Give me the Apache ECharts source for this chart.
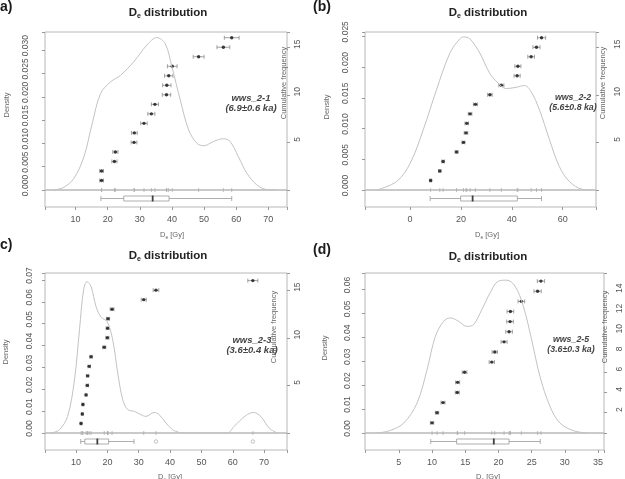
<!DOCTYPE html>
<html>
<head>
<meta charset="utf-8">
<script src="https://cdn.jsdelivr.net/npm/echarts@6/dist/echarts.min.js"></script>
<style>
html,body{margin:0;padding:0;background:#fff;}
#chart{width:625px;height:479px;}
</style>
</head>
<body>
<div id="chart"></div>
<script>
// ---- data ----
// a) wws_2-1
var aDensX = [3.3, 6.4, 9.5, 12.6, 15.2, 17.8, 20.9, 24.0, 28.1, 32.2, 35.3, 37.9, 40.0, 42.6, 45.2, 47.8, 50.0, 52.9, 56.0, 58.1, 60.7, 63.3, 66.4, 69.5, 72.6];
var aDensY = [0, 0.0006, 0.0025, 0.0071, 0.0143, 0.0207, 0.0232, 0.0246, 0.0275, 0.0311, 0.0327, 0.0314, 0.0264, 0.0193, 0.0129, 0.0100, 0.0095, 0.0104, 0.0110, 0.0104, 0.0071, 0.0036, 0.0011, 0.0001, 0];
var aDe = [18.1, 18.1, 22.1, 22.4, 28.2, 28.3, 31.3, 33.6, 34.7, 38.3, 38.4, 39.0, 40.1, 48.3, 56.0, 58.6];
var aErr = [0.6, 0.6, 0.8, 0.8, 0.9, 0.9, 1.0, 1.1, 1.1, 1.3, 1.3, 1.3, 1.5, 1.7, 2.0, 2.3];
var aBox = [17.9, 25.0, 34.0, 39.1, 58.6];
var aXTicks = [10, 20, 30, 40, 50, 60, 70];
var aDTicks = [0, 0.005, 0.01, 0.015, 0.02, 0.025, 0.03];
var aCTicks = [5, 10, 15];

// (b) wws_2-2
var bDensX = [-13.0, -5.2, 0, 5.2, 10.4, 15.7, 19.6, 21.1, 23.5, 27.4, 31.3, 34.6, 37.8, 41.7, 45.0, 47.6, 50.9, 54.8, 58.7, 62.6, 67.8, 71.7];
var bDensY = [0, 0.0014, 0.0043, 0.0098, 0.0163, 0.0223, 0.0246, 0.0249, 0.0246, 0.0223, 0.0190, 0.0174, 0.0165, 0.0167, 0.0170, 0.0160, 0.0130, 0.0082, 0.0038, 0.0014, 0.0001, 0];
var bDe = [8.1, 11.7, 13.0, 18.3, 21.0, 22.0, 22.3, 23.6, 25.7, 31.4, 35.9, 42.1, 42.4, 47.6, 49.7, 51.7];
var bErr = [0.4, 0.5, 0.5, 0.6, 0.6, 0.7, 0.7, 0.7, 0.8, 0.9, 1.0, 1.2, 1.2, 1.3, 1.4, 1.6];
var bBox = [7.9, 19.9, 24.6, 42.2, 51.7];
var bXTicks = [0, 20, 40, 60];
var bDTicks = [0, 0.005, 0.01, 0.015, 0.02, 0.025];
var bCTicks = [5, 10, 15];

// c) wws_2-3
var cDensX = [2.0, 4.7, 7.3, 9.5, 11.1, 12.4, 13.5, 14.8, 16.4, 18.0, 19.9, 21.7, 23.3, 24.9, 26.5, 28.6, 30.7, 32.3, 34.9, 36.5, 38.7, 40.8, 42.9, 44.5, 58.3, 60.4, 64.1, 66.6, 68.9, 71.6, 74.2];
var cDensY = [0, 0.0015, 0.0076, 0.0243, 0.0472, 0.0654, 0.0692, 0.0670, 0.0578, 0.0530, 0.0510, 0.0426, 0.0274, 0.0152, 0.0107, 0.0099, 0.0084, 0.0076, 0.0094, 0.0084, 0.0046, 0.0015, 0.0003, 0, 0, 0.0030, 0.0079, 0.0094, 0.0076, 0.0023, 0];
var cDe = [11.6, 12.0, 12.2, 13.2, 13.6, 13.7, 14.2, 14.8, 19.0, 20.0, 20.1, 20.2, 21.5, 31.6, 35.5, 66.4];
var cErr = [0.3, 0.3, 0.3, 0.3, 0.4, 0.4, 0.4, 0.4, 0.5, 0.5, 0.5, 0.5, 0.6, 0.8, 0.9, 1.6];
var cBox = [11.5, 12.8, 16.8, 20.4, 28.5];
var cOut = [35.5, 66.4];
var cXTicks = [10, 20, 30, 40, 50, 60, 70];
var cDTicks = [0, 0.01, 0.02, 0.03, 0.04, 0.05, 0.06, 0.07];
var cCTicks = [5, 10, 15];

// (d) wws_2-5
var dDensX = [1.75, 3.75, 5.75, 7.75, 9.25, 10.5, 11.75, 12.75, 14.0, 15.25, 16.25, 17.5, 18.75, 20.0, 21.25, 22.5, 23.75, 25.0, 26.25, 27.75, 29.25, 31.25, 33.25];
var dDensY = [0, 0.0011, 0.0042, 0.0126, 0.0265, 0.0404, 0.0467, 0.0481, 0.0467, 0.0446, 0.0453, 0.0516, 0.0586, 0.0635, 0.0639, 0.0614, 0.0530, 0.0390, 0.0237, 0.0112, 0.0042, 0.0010, 0];
var dDe = [10.0, 10.75, 11.65, 13.8, 13.85, 14.9, 19.0, 19.45, 20.85, 21.6, 21.75, 21.8, 23.45, 25.9, 26.4];
var dErr = [0.25, 0.25, 0.3, 0.3, 0.3, 0.35, 0.4, 0.4, 0.45, 0.5, 0.5, 0.5, 0.5, 0.55, 0.55];
var dBox = [9.8, 13.7, 19.3, 21.6, 26.3];
var dXTicks = [5, 10, 15, 20, 25, 30, 35];
var dDTicks = [0, 0.01, 0.02, 0.03, 0.04, 0.05, 0.06];
var dCTicks = [2, 4, 6, 8, 10, 12, 14];

var sampleNames = ['wws_2-1', 'wws_2-2', 'wws_2-3', 'wws_2-5'];
var sampleAges = ['(6.9\u00b10.6 ka)', '(5.6\u00b10.8 ka)', '(3.6\u00b10.4 ka)', '(3.6\u00b10.3 ka)'];
var panelTags = ['a)', '(b)', 'c)', '(d)'];

// ---- layout ----
var FONT = '"Liberation Sans", Arial, Helvetica, sans-serif';
var panels = [
  {dx: aDensX, dy: aDensY, de: aDe, err: aErr, box: aBox, out: [], xt: aXTicks, dt: aDTicks, ct: aCTicks,
   left: 45, top: 32, width: 242, hd: 158, xmin: 0.5, xmax: 75.8, xstep: 10, dmax: 0.0339, dstep: 0.005, dec: 3,
   cmax: 16.6, cstep: 5, dMargin: 15, cMargin: 6, txt: 9.5},
  {dx: bDensX, dy: bDensY, de: bDe, err: bErr, box: bBox, out: [], xt: bXTicks, dt: bDTicks, ct: bCTicks,
   left: 365, top: 32, width: 231, hd: 158, xmin: -17.7, xmax: 73.1, xstep: 20, dmax: 0.0257, dstep: 0.005, dec: 3,
   cmax: 16.6, cstep: 5, dMargin: 15, cMargin: 17, txt: 8.8},
  {dx: cDensX, dy: cDensY, de: cDe, err: cErr, box: cBox, out: cOut, xt: cXTicks, dt: cDTicks, ct: cCTicks,
   left: 45, top: 273, width: 242, hd: 160, xmin: 0.1, xmax: 77.3, xstep: 10, dmax: 0.0732, dstep: 0.01, dec: 2,
   cmax: 16.8, cstep: 5, dMargin: 11, cMargin: 6, txt: 9.5},
  {dx: dDensX, dy: dDensY, de: dDe, err: dErr, box: dBox, out: [], xt: dXTicks, dt: dDTicks, ct: dCTicks,
   left: 365, top: 273, width: 239, hd: 160, xmin: -0.1, xmax: 35.9, xstep: 5, dmax: 0.0669, dstep: 0.01, dec: 2,
   cmax: 15.8, cstep: 2, dMargin: 13, cMargin: 11, txt: 8.8}
];

function inList(list, v) {
  for (var i = 0; i < list.length; i++) {
    if (Math.abs(list[i] - v) < 1e-7) return true;
  }
  return false;
}

function errItem(params, api) {
  var x = api.value(0), y = api.value(1), e = api.value(2);
  var p1 = api.coord([x - e, y]), p2 = api.coord([x + e, y]);
  var st = {stroke: '#8a8a8a', lineWidth: 0.8};
  return {type: 'group', children: [
    {type: 'line', shape: {x1: p1[0], y1: p1[1], x2: p2[0], y2: p2[1]}, style: st},
    {type: 'line', shape: {x1: p1[0], y1: p1[1] - 2, x2: p1[0], y2: p1[1] + 2}, style: st},
    {type: 'line', shape: {x1: p2[0], y1: p2[1] - 2, x2: p2[0], y2: p2[1] + 2}, style: st}
  ]};
}

function rugItem(params, api) {
  var p = api.coord([api.value(0), 0]);
  return {type: 'line', shape: {x1: p[0], y1: p[1] - 2, x2: p[0], y2: p[1] + 2},
    style: {stroke: '#a8a8a8', lineWidth: 0.7}};
}

var option = {
  animation: false,
  backgroundColor: '#fff',
  textStyle: {fontFamily: FONT},
  grid: [], xAxis: [], yAxis: [], series: [], graphic: []
};

panels.forEach(function (p, i) {
  var g = i * 2, ya = i * 3;
  var border = {show: true, borderColor: '#b8b8b8', borderWidth: 1, backgroundColor: 'transparent'};
  option.grid.push(Object.assign({left: p.left, top: p.top, width: p.width, height: p.hd}, border));
  option.grid.push(Object.assign({left: p.left, top: p.top + p.hd, width: p.width, height: 17}, border));

  option.xAxis.push({type: 'value', gridIndex: g, min: p.xmin, max: p.xmax, show: false,
    axisLine: {onZero: false}});
  option.xAxis.push({
    type: 'value', gridIndex: g + 1, min: p.xmin, max: p.xmax,
    minInterval: p.xstep, maxInterval: p.xstep,
    splitLine: {show: false}, axisLine: {show: false, onZero: false},
    axisTick: {show: true, length: 3, lineStyle: {color: '#9a9a9a'}},
    axisLabel: {color: '#555', fontSize: 9, margin: 8, fontFamily: FONT,
      formatter: function (v) { return inList(p.xt, v) ? String(v) : ''; }}
  });

  // rotated tick labels sit a few px above their ticks in the original
  option.yAxis.push({
    type: 'value', gridIndex: g, position: 'left', min: 0, max: p.dmax, interval: p.dstep,
    splitLine: {show: false}, axisLine: {show: false, onZero: false},
    axisTick: {show: true, length: 3, lineStyle: {color: '#9a9a9a'}},
    axisLabel: {rotate: 90, color: '#555', fontSize: 8.5, margin: p.dMargin, fontFamily: FONT,
      padding: [0, 0, 0, 9],
      formatter: function (v) { return inList(p.dt, v) ? v.toFixed(p.dec) : ''; }}
  });
  option.yAxis.push({
    type: 'value', gridIndex: g, position: 'right', min: 0, max: p.cmax, interval: p.cstep,
    splitLine: {show: false}, axisLine: {show: false, onZero: false},
    axisTick: {show: true, length: 3, lineStyle: {color: '#9a9a9a'}},
    axisLabel: {rotate: 90, color: '#555', fontSize: 8.5, margin: p.cMargin, fontFamily: FONT,
      padding: [0, 0, 0, 6],
      formatter: function (v) { return inList(p.ct, v) ? String(v) : ''; }}
  });
  option.yAxis.push({type: 'category', gridIndex: g + 1, data: ['box'], show: false});

  // density curve
  option.series.push({
    type: 'line', xAxisIndex: g, yAxisIndex: ya, smooth: 0.35, symbol: 'none', silent: true,
    lineStyle: {color: '#c2c2c2', width: 1},
    data: p.dx.map(function (x, k) { return [x, p.dy[k]]; })
  });
  // rug
  option.series.push({
    type: 'custom', xAxisIndex: g, yAxisIndex: ya, renderItem: rugItem, silent: true,
    encode: {x: 0, y: 1},
    data: p.de.map(function (v) { return [v, 0]; })
  });
  // error bars
  option.series.push({
    type: 'custom', xAxisIndex: g, yAxisIndex: ya + 1, renderItem: errItem, silent: true,
    encode: {x: 0, y: 1},
    data: p.de.map(function (v, k) { return [v, k + 1, p.err[k]]; })
  });
  // cumulative points
  option.series.push({
    type: 'scatter', xAxisIndex: g, yAxisIndex: ya + 1, symbolSize: 3.4, silent: true,
    itemStyle: {color: '#111'},
    data: p.de.map(function (v, k) { return [v, k + 1]; })
  });
  // boxplot
  option.series.push({
    type: 'boxplot', xAxisIndex: g + 1, yAxisIndex: ya + 2, boxWidth: [5, 5], silent: true,
    itemStyle: {color: '#fff', borderColor: '#9a9a9a', borderWidth: 0.8},
    data: [p.box]
  });
  option.series.push({
    type: 'scatter', xAxisIndex: g + 1, yAxisIndex: ya + 2, symbol: 'rect', symbolSize: [1.8, 6], silent: true,
    itemStyle: {color: '#222'},
    data: [[p.box[2], 0]]
  });
  if (p.out.length) {
    option.series.push({
      type: 'scatter', xAxisIndex: g + 1, yAxisIndex: ya + 2, symbol: 'circle', symbolSize: 3.5, silent: true,
      itemStyle: {color: '#fff', borderColor: '#a0a0a0', borderWidth: 0.8},
      data: p.out.map(function (v) { return [v, 0]; })
    });
  }
});

function txt(x, y, text, st, rot) {
  var style = Object.assign({text: text, fontFamily: FONT, align: 'center', textAlign: 'center',
    verticalAlign: 'middle', textVerticalAlign: 'middle', fill: '#555'}, st);
  return {type: 'text', x: x, y: y, rotation: rot || 0, silent: true, style: style};
}

var titlePos = [[168, 13], [488, 13], [168, 256], [488, 257]];
var tagPos = [[0, 7], [313, 7], [0, 245], [313, 250]];
var samplePos = [[251, 98], [573, 98], [252, 340], [571, 340]];
var densNamePos = [[7, 105], [327, 107], [6, 352], [325, 348]];
var cumNamePos = [[284, 83], [603, 83], [274, 327], [605, 327]];
var xNamePos = [[172, 235], [487, 235], [170, 477], [488, 477]];

for (var i = 0; i < 4; i++) {
  var fs = panels[i].txt;
  option.graphic.push(txt(tagPos[i][0], tagPos[i][1], panelTags[i],
    {fontSize: 14, fontWeight: 'bold', fill: '#1a1a1a', align: 'left', textAlign: 'left'}));
  option.graphic.push(txt(titlePos[i][0], titlePos[i][1], '{m|D}{s|e}{m| distribution}', {
    fill: '#222',
    rich: {m: {fontSize: 11.5, fontWeight: 'bold', fill: '#222', fontFamily: FONT, lineHeight: 14},
           s: {fontSize: 7, fontWeight: 'bold', fill: '#222', fontFamily: FONT, verticalAlign: 'bottom'}}
  }));
  option.graphic.push(txt(samplePos[i][0], samplePos[i][1], sampleNames[i],
    {fontSize: fs, fontWeight: 'bold', fontStyle: 'italic', fill: '#444'}));
  option.graphic.push(txt(samplePos[i][0], samplePos[i][1] + 10, sampleAges[i],
    {fontSize: fs, fontWeight: 'bold', fontStyle: 'italic', fill: '#444'}));
  option.graphic.push(txt(densNamePos[i][0], densNamePos[i][1], 'Density',
    {fontSize: 7.5, fill: '#666'}, Math.PI / 2));
  option.graphic.push(txt(cumNamePos[i][0], cumNamePos[i][1], 'Cumulative frequency',
    {fontSize: 7.5, fill: '#666'}, Math.PI / 2));
  option.graphic.push(txt(xNamePos[i][0], xNamePos[i][1], '{m|D}{s|e}{m| [Gy]}', {
    fill: '#666',
    rich: {m: {fontSize: 7.5, fill: '#666', fontFamily: FONT, lineHeight: 10},
           s: {fontSize: 5, fill: '#666', fontFamily: FONT, verticalAlign: 'bottom'}}
  }));
}

var chart = echarts.init(document.getElementById('chart'), null, {renderer: 'canvas'});
chart.setOption(option);
</script>
</body>
</html>
